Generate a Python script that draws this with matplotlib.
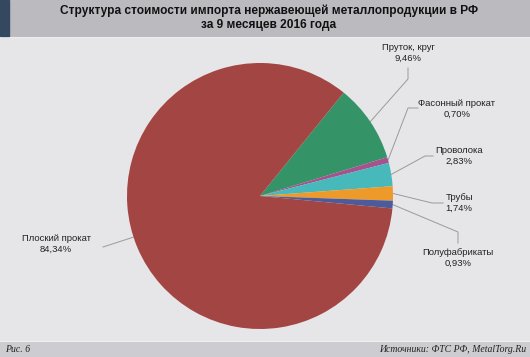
import numpy as np
import matplotlib.pyplot as plt
from matplotlib.patches import Rectangle

# данные
kategorii = ['Пруток, круг', 'Фасонный прокат', 'Проволока', 'Трубы',
             'Полуфабрикаты', 'Плоский прокат']
doli = [9.46, 0.70, 2.83, 1.74, 0.93, 84.34]
culori = ['#359467', '#a6528f', '#47b9ba', '#ee9a2b', '#4c5b9b', '#a34543']

W, H = 530, 357
cx, cy, r = 260, 196, 133
start = 51

fig = plt.figure(figsize=(W / 100, H / 100), dpi=100)

# фон в пикселях
bg = fig.add_axes([0, 0, 1, 1], zorder=0)
bg.set_xlim(0, W)
bg.set_ylim(H, 0)
bg.axis('off')
bg.add_patch(Rectangle((0, 0), W, H, color='white'))
bg.add_patch(Rectangle((0, 0), W, 36, color='#bbbabf'))
bg.add_patch(Rectangle((0, 0), 9, 36, color='#34495f'))
bg.add_patch(Rectangle((0, 38), W, 302, color='#e6e5e8'))
bg.add_patch(Rectangle((0, 342), W, 15, color='#cdccd0'))

bg.text(W / 2 + 4, 18, 'Структура стоимости импорта нержавеющей металлопродукции в РФ\nза 9 месяцев 2016 года',
        ha='center', va='center', fontsize=8.6, fontweight='bold', color='#111111',
        family='Liberation Sans', linespacing=1.2)
bg.text(5, 350, 'Рис. 6', ha='left', va='center', fontsize=7, style='italic',
        family='Liberation Serif', color='#222222')
bg.text(526, 350, 'Источники: ФТС РФ, MetalTorg.Ru', ha='right', va='center', fontsize=7,
        style='italic', family='Liberation Serif', color='#222222')

# круговая диаграмма
ax = fig.add_axes([(cx - r) / W, (H - cy - r) / H, 2 * r / W, 2 * r / H], zorder=1)
ax.pie(doli, colors=culori, startangle=start, counterclock=False, radius=1,
       wedgeprops=dict(linewidth=0))
ax.set_xlim(-1, 1)
ax.set_ylim(-1, 1)
ax.set_aspect('auto')
ax.axis('off')

# углы середины секторов
ugly = []
a = start
for d in doli:
    span = d / 100 * 360
    ugly.append(a - span / 2)
    a -= span
ugly[-1] = 198  # подпись плоского проката идёт к левому краю

# изломы выносок и позиции подписей (пиксели)
izlomy = [[(408, 79), (408, 68)],
          [(408, 108), (418, 108)],
          [(425, 156), (433, 156)],
          [(432, 203), (443, 203)],
          [(458, 232), (458, 243)],
          [(103, 247)]]
pozitii = [(408, 53), (457, 109), (459, 156), (459, 203), (458, 258), (56, 244)]

for nume, d, ug, iz, (tx, ty) in zip(kategorii, doli, ugly, izlomy, pozitii):
    x0 = cx + r * np.cos(np.radians(ug))
    y0 = cy - r * np.sin(np.radians(ug))
    xs = [x0] + [p[0] for p in iz]
    ys = [y0] + [p[1] for p in iz]
    bg.plot(xs, ys, color='#9a9a9a', lw=0.7, zorder=2)
    eticheta = f'{nume}\n{d:.2f}%'.replace('.', ',')
    bg.text(tx, ty, eticheta, ha='center', va='center', fontsize=6.8,
            color='#222222', family='Liberation Sans', linespacing=1.3, zorder=3)

fig.savefig('out.png', dpi=100)
